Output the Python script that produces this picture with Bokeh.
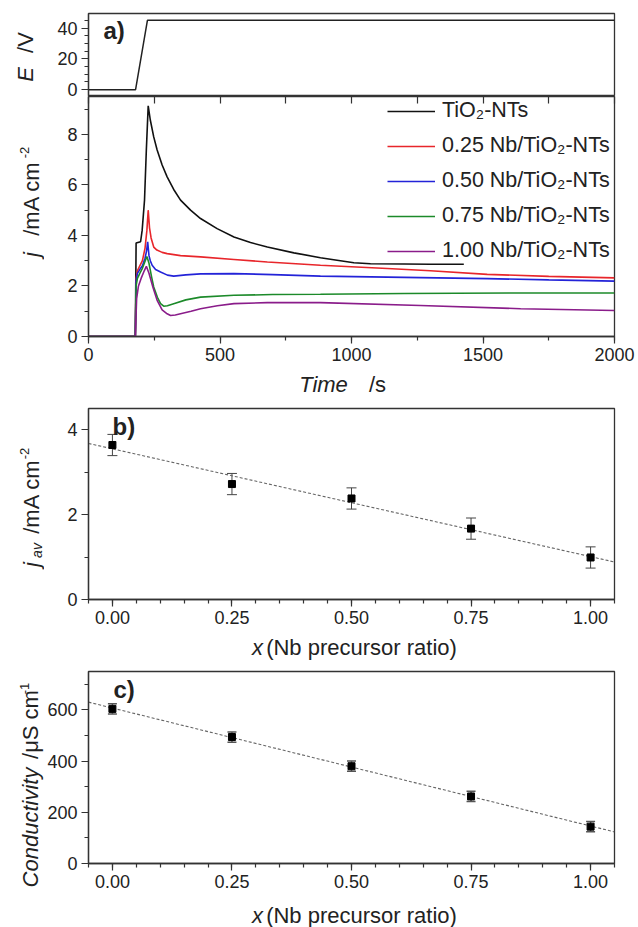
import numpy as np
from bokeh.plotting import figure
from bokeh.layouts import column, row
from bokeh.models import (Range1d, SingleIntervalTicker, LinearAxis, Label, Legend, LegendItem,
                          Whisker, ColumnDataSource, PrintfTickFormatter, TeeHead)
from bokeh.embed import file_html
from bokeh.resources import INLINE

FONT = "Liberation Sans"

# ---------------- data ----------------
# panel a (top): applied potential
E_t = [0, 179, 224, 2000]
E_v = [0, 0, 45, 45]

# panel a (bottom): current transients
tio2_t = [0, 178, 181, 198, 204, 213, 220, 227, 235, 248, 261, 280, 299, 324, 350, 388, 426, 489, 553, 616, 680, 781, 882, 945, 1009, 1072, 1200, 1300, 1427]
tio2_j = [0, 0, 3.70, 3.75, 4.2, 5.4, 7.4, 9.13, 8.57, 7.9, 7.38, 6.79, 6.32, 5.82, 5.40, 5.0, 4.67, 4.27, 3.94, 3.72, 3.54, 3.31, 3.12, 3.02, 2.92, 2.88, 2.87, 2.86, 2.86]

nb25_t = [0, 178, 181, 186, 195, 205, 215, 222, 227, 232, 238, 248, 260, 280, 299, 350, 426, 553, 680, 882, 1136, 1300, 1516, 1750, 2000]
nb25_j = [0, 0, 2.3, 2.6, 2.8, 3.0, 3.5, 4.2, 5.0, 4.3, 3.9, 3.54, 3.42, 3.33, 3.28, 3.2, 3.15, 3.05, 2.95, 2.82, 2.69, 2.6, 2.46, 2.38, 2.32]

nb50_t = [0, 178, 181, 186, 195, 205, 215, 221, 225, 230, 235, 242, 255, 274, 300, 324, 370, 426, 553, 700, 882, 1200, 1516, 1750, 2000]
nb50_j = [0, 0, 2.2, 2.5, 2.65, 2.8, 3.1, 3.4, 3.75, 3.2, 3.0, 2.82, 2.65, 2.55, 2.43, 2.39, 2.44, 2.48, 2.49, 2.45, 2.39, 2.34, 2.29, 2.24, 2.19]

nb75_t = [0, 178, 181, 186, 195, 205, 214, 222, 230, 240, 248, 262, 274, 286, 300, 324, 370, 426, 553, 700, 882, 1200, 1600, 2000]
nb75_j = [0, 0, 2.0, 2.3, 2.5, 2.7, 2.95, 3.17, 2.9, 2.35, 1.96, 1.55, 1.3, 1.2, 1.22, 1.3, 1.45, 1.56, 1.63, 1.66, 1.67, 1.70, 1.72, 1.72]

nb100_t = [0, 178, 183, 190, 200, 212, 220, 230, 245, 261, 280, 299, 312, 330, 350, 390, 426, 490, 553, 680, 882, 1262, 1643, 2000]
nb100_j = [0, 0, 1.5, 2.0, 2.3, 2.6, 2.78, 2.5, 1.95, 1.43, 1.05, 0.90, 0.83, 0.85, 0.90, 1.0, 1.10, 1.22, 1.30, 1.34, 1.34, 1.23, 1.10, 1.03]

series_labels = ["TiO\u2082-NTs", "0.25 Nb/TiO\u2082-NTs", "0.50 Nb/TiO\u2082-NTs",
                 "0.75 Nb/TiO\u2082-NTs", "1.00 Nb/TiO\u2082-NTs"]
series_colors = ["#111111", "#e8262b", "#2323d8", "#1c8a2a", "#8a1c8a"]

# panel b
x_ratio = [0.00, 0.25, 0.50, 0.75, 1.00]
j_av = [3.64, 2.72, 2.38, 1.67, 0.99]
j_av_err = [0.25, 0.25, 0.25, 0.25, 0.25]

# panel c
conductivity = [604, 494, 380, 262, 144]
conductivity_err = [20, 20, 20, 20, 20]

AX = "#333333"
TXT = "#222222"
LW = 44            # width of the y-label strip
PW = 638 - LW      # width of the plot figures
LEFT = 44          # plot border left (frame starts at x=88 on the page)
RIGHT = 24
ALAB = "22px"


def base_fig(h, xr, yr, top, bottom, **kw):
    p = figure(width=PW, height=h, x_range=xr, y_range=yr, output_backend="svg",
               toolbar_location=None, min_border_left=LEFT, min_border_right=RIGHT,
               min_border_top=top, min_border_bottom=bottom, **kw)
    p.xgrid.visible = False
    p.ygrid.visible = False
    p.outline_line_color = AX
    p.outline_line_width = 1.3
    p.background_fill_color = "white"
    p.border_fill_color = "white"
    return p


def text_fig(w, h):
    p = figure(width=w, height=h, x_range=Range1d(0, 1), y_range=Range1d(0, 1),
               output_backend="svg", toolbar_location=None,
               x_axis_location=None, y_axis_location=None,
               min_border_left=0, min_border_right=0, min_border_top=0, min_border_bottom=0)
    p.xgrid.visible = False
    p.ygrid.visible = False
    p.outline_line_color = None
    p.background_fill_color = "white"
    p.border_fill_color = "white"
    return p


def style_axis(ax):
    ax.axis_line_color = AX
    ax.axis_line_width = 1.3
    ax.major_tick_line_color = AX
    ax.minor_tick_line_color = AX
    ax.major_tick_line_width = 1.2
    ax.minor_tick_line_width = 1.2
    ax.major_tick_out = 7
    ax.major_tick_in = 0
    ax.minor_tick_out = 4
    ax.minor_tick_in = 0
    ax.major_label_text_font = FONT
    ax.major_label_text_font_size = "18px"
    ax.major_label_text_color = TXT
    ax.major_label_standoff = 4


def lab(p, text, x, y, size=ALAB, style="normal", angle=0.0, align="center", baseline="middle"):
    p.add_layout(Label(x=x, y=y, x_units="screen", y_units="screen", text=text,
                       text_font=FONT, text_font_size=size, text_font_style=style,
                       angle=angle, text_align=align, text_baseline=baseline,
                       text_color=TXT, level="overlay"))


V = np.pi / 2

# ---------------- panel a: potential ----------------
p1 = base_fig(96, Range1d(0, 2000), Range1d(-4.4, 49.4), 13, 0, x_axis_location=None)
p1.yaxis.ticker = SingleIntervalTicker(interval=20, num_minor_ticks=4)
style_axis(p1.yaxis[0])
p1.line(E_t, E_v, line_color="#222222", line_width=1.5)
lab(p1, "a)", 15, 66, size="24px", style="bold", align="left")

# ---------------- panel a: current ----------------
p2 = base_fig(276, Range1d(0, 2000), Range1d(0, 9.5), 0, 36)
p2.xaxis.ticker = SingleIntervalTicker(interval=500, num_minor_ticks=2)
p2.yaxis.ticker = SingleIntervalTicker(interval=2, num_minor_ticks=2)
style_axis(p2.xaxis[0])
style_axis(p2.yaxis[0])
top_ax = LinearAxis(ticker=SingleIntervalTicker(interval=250, num_minor_ticks=0),
                    major_tick_in=7, major_tick_out=0, major_label_text_font_size="0px",
                    major_label_text_color=None, major_label_standoff=0,
                    axis_line_color=None, minor_tick_line_color=None,
                    major_tick_line_color=AX, major_tick_line_width=1.2)
p2.add_layout(top_ax, "above")

all_t = [tio2_t, nb25_t, nb50_t, nb75_t, nb100_t]
all_j = [tio2_j, nb25_j, nb50_j, nb75_j, nb100_j]
items = []
for t, j, c, l in zip(all_t, all_j, series_colors, series_labels):
    r = p2.line(t, j, line_color=c, line_width=1.6)
    items.append(LegendItem(label=l, renderers=[r]))
legend = Legend(items=items, location=(299, 73), glyph_width=48, glyph_height=24,
                label_height=24, spacing=10, padding=0, margin=0, label_standoff=7,
                label_text_font=FONT, label_text_font_size="21.5px", label_text_color=TXT,
                border_line_color=None, background_fill_alpha=0)
p2.add_layout(legend)

# y-label strip for both parts of panel a (page y 0..396)
ya = text_fig(LW, 396)
lab(ya, "E", 25, 322, style="italic", angle=V)
lab(ya, "/V", 25, 354, angle=V)
lab(ya, "j", 31, 142, style="italic", angle=V)
lab(ya, "/mA cm", 31, 198, angle=V)
lab(ya, "-2", 24, 244, size="13px", angle=V)

x2 = text_fig(PW, 24)
lab(x2, "Time", 235, 12, style="italic")
lab(x2, "/s", 289, 12)

# ---------------- panel b ----------------
p3 = base_fig(237, Range1d(-0.05, 1.05), Range1d(0, 4.5), 12, 34)
p3.xaxis.ticker = SingleIntervalTicker(interval=0.25, num_minor_ticks=5)
p3.xaxis.formatter = PrintfTickFormatter(format="%.2f")
p3.yaxis.ticker = SingleIntervalTicker(interval=2, num_minor_ticks=2)
style_axis(p3.xaxis[0])
style_axis(p3.yaxis[0])

xb = np.array(x_ratio)
yb = np.array(j_av)
eb = np.array(j_av_err)
coef_b = np.polyfit(xb, yb, 1)
fx_b = np.array([p3.x_range.start, p3.x_range.end])
p3.line(fx_b, np.polyval(coef_b, fx_b), line_color="#666666", line_width=1.1, line_dash="3 2")
src_b = ColumnDataSource(dict(base=xb, upper=yb + eb, lower=yb - eb))
p3.add_layout(Whisker(source=src_b, base="base", upper="upper", lower="lower",
                      line_color="#444444", line_width=1,
                      upper_head=TeeHead(size=10, line_color="#444444", line_width=1),
                      lower_head=TeeHead(size=10, line_color="#444444", line_width=1)))
p3.scatter(xb, yb, marker="square", size=7, fill_color="black", line_color="black")
lab(p3, "b)", 24, 173, size="24px", style="bold", align="left")

y3 = text_fig(LW, 267)
lab(y3, "j", 31, 99, style="italic", angle=V)
lab(y3, "av", 36, 113, size="14px", style="italic", angle=V)
lab(y3, "/mA cm", 31, 167, angle=V)
lab(y3, "-2", 24, 210, size="13px", angle=V)

x3 = text_fig(PW, 30)
lab(x3, "x", 169, 16, style="italic")
lab(x3, "(Nb precursor ratio)", 273, 16)

# ---------------- panel c ----------------
p4 = base_fig(234, Range1d(-0.05, 1.05), Range1d(0, 750), 8, 34)
p4.xaxis.ticker = SingleIntervalTicker(interval=0.25, num_minor_ticks=5)
p4.xaxis.formatter = PrintfTickFormatter(format="%.2f")
p4.yaxis.ticker = SingleIntervalTicker(interval=200, num_minor_ticks=2)
style_axis(p4.xaxis[0])
style_axis(p4.yaxis[0])

yc = np.array(conductivity, dtype=float)
ec = np.array(conductivity_err, dtype=float)
coef_c = np.polyfit(xb, yc, 1)
fx_c = np.array([p4.x_range.start, p4.x_range.end])
p4.line(fx_c, np.polyval(coef_c, fx_c), line_color="#666666", line_width=1.1, line_dash="3 2")
src_c = ColumnDataSource(dict(base=xb, upper=yc + ec, lower=yc - ec))
p4.add_layout(Whisker(source=src_c, base="base", upper="upper", lower="lower",
                      line_color="#555555", line_width=1.5,
                      upper_head=TeeHead(size=9, line_color="#555555", line_width=1.5),
                      lower_head=TeeHead(size=9, line_color="#555555", line_width=1.5)))
p4.scatter(xb, yc, marker="square", size=7, fill_color="black", line_color="black")
lab(p4, "c)", 25, 174, size="24px", style="bold", align="left")

y4 = text_fig(LW, 264)
lab(y4, "Conductivity", 30, 100, style="italic", angle=V)
lab(y4, "/\u03bcS cm", 30, 203, angle=V)
lab(y4, "-1", 24, 239, size="13px", angle=V)

x4 = text_fig(PW, 30)
lab(x4, "x", 169, 12, style="italic")
lab(x4, "(Nb precursor ratio)", 273, 12)

layout = column(
    row(ya, column(p1, p2, x2, spacing=0), spacing=0),
    row(y3, column(p3, x3, spacing=0), spacing=0),
    row(y4, column(p4, x4, spacing=0), spacing=0),
    spacing=0,
)
open("out.html", "w").write(file_html(layout, INLINE))
